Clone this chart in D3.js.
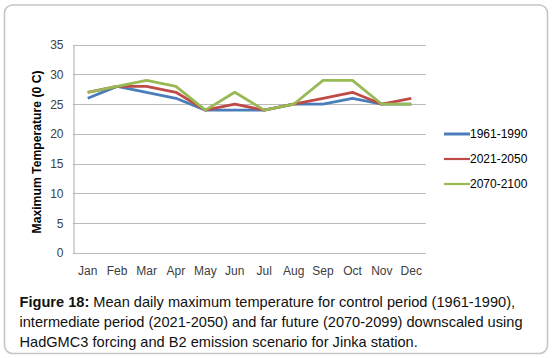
<!DOCTYPE html>
<html><head><meta charset="utf-8">
<script src="https://cdn.jsdelivr.net/npm/d3@7/dist/d3.min.js"></script>
<style>
html,body{margin:0;padding:0;background:#fff;}
svg{display:block;}
</style></head>
<body>
<script>
const months = ["Jan","Feb","Mar","Apr","May","Jun","Jul","Aug","Sep","Oct","Nov","Dec"];
const seriesNames = ["1961-1990","2021-2050","2070-2100"];
const control = [26,28,27,26,24,24,24,25,25,26,25,25];
const intermediate = [27,28,28,27,24,25,24,25,26,27,25,26];
const farFuture = [27,28,29,28,24,27,24,25,29,29,25,25];
const yTicks = [0,5,10,15,20,25,30,35];
const yTitle = "Maximum Temperature (0 C)";
const captionBold = "Figure 18:";
const captionLines = [
  " Mean daily maximum temperature for control period (1961-1990),",
  "intermediate period (2021-2050) and far future (2070-2099) downscaled using",
  "HadGMC3 forcing and B2 emission scenario for Jinka station."
];
const colors = ["#4A7EBB","#BE4B48","#98B954"];
const series = [control, intermediate, farFuture];

const W = 552, H = 358;
const svg = d3.select("body").append("svg").attr("width", W).attr("height", H);

// outer rounded frame
svg.append("rect").attr("x",4.5).attr("y",5).attr("width",543).attr("height",348.5)
  .attr("rx",8).attr("fill","#fff").attr("stroke","#C6C6C6").attr("stroke-width",1.6);

const plot = {left:73, right:426, top:44.7, bottom:253};
const x = d3.scaleBand().domain(months).range([plot.left, plot.right]);
const y = d3.scaleLinear().domain([0,35]).range([plot.bottom, plot.top]);

const tickFont = "'Liberation Sans Narrow','Liberation Sans',Arial,sans-serif";

// gridlines
svg.append("g").selectAll("line").data(yTicks).join("line")
  .attr("x1", plot.left).attr("x2", plot.right)
  .attr("y1", d => Math.round(y(d))+0.5).attr("y2", d => Math.round(y(d))+0.5)
  .attr("stroke", "#BBBBBB").attr("stroke-width", 1);

// y axis
const yAxis = d3.axisLeft(y).tickValues(yTicks).tickSize(0).tickPadding(10);
const gy = svg.append("g").attr("transform", `translate(${plot.left+0.5},0)`).call(yAxis);
gy.select(".domain").attr("stroke", "#AAAAAA");
gy.selectAll("text").attr("font-family", tickFont).attr("font-size", 12).attr("fill", "#404040");

// x axis labels
const xAxis = d3.axisBottom(x).tickSize(0).tickPadding(13);
const gx = svg.append("g").attr("transform", `translate(0,${plot.bottom})`).call(xAxis);
gx.select(".domain").remove();
gx.selectAll("text").attr("font-family", tickFont).attr("font-size", 12).attr("fill", "#404040");

// y title
svg.append("text").attr("transform", `translate(41,152) rotate(-90)`)
  .attr("text-anchor","middle").attr("font-family","'Liberation Sans',Arial,sans-serif")
  .attr("font-weight","bold").attr("font-size",12.2).attr("fill","#000").text(yTitle);

// lines
const line = d3.line().x((d,i) => x(months[i]) + x.bandwidth()/2).y(d => y(d));
series.forEach((s, k) => {
  svg.append("path").datum(s).attr("d", line).attr("fill","none")
    .attr("stroke", colors[k]).attr("stroke-width", 2.8).attr("stroke-linejoin","round");
});

// legend
const legY = d3.scalePoint().domain(seriesNames).range([134, 184]);
const leg = svg.append("g");
seriesNames.forEach((n,k) => {
  leg.append("line").attr("x1",444).attr("x2",470).attr("y1",legY(n)).attr("y2",legY(n))
    .attr("stroke",colors[k]).attr("stroke-width", k===0?3:2.2);
  leg.append("text").attr("x",470).attr("y",legY(n)).attr("dy","0.35em")
    .attr("font-family",tickFont).attr("font-size",12).attr("fill","#000").text(n);
});

// caption
const cap = svg.append("text").attr("font-family","'Liberation Sans',Arial,sans-serif")
  .attr("font-size",14.6).attr("fill","#111");
const l1 = cap.append("tspan").attr("x",19.5).attr("y",306.5);
l1.append("tspan").attr("font-weight","bold").text(captionBold);
l1.append("tspan").text(captionLines[0]);
cap.append("tspan").attr("x",19.5).attr("y",327).text(captionLines[1]);
cap.append("tspan").attr("x",19.5).attr("y",346.5).text(captionLines[2]);
</script>
</body></html>
